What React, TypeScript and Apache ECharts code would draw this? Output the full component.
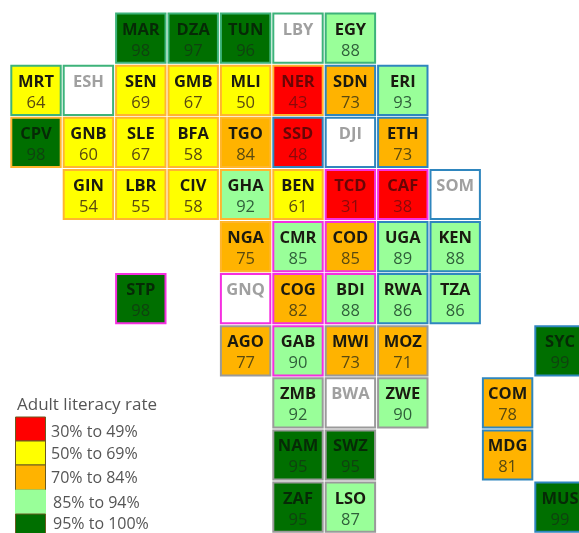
import React, { useEffect, useRef } from "react";
import * as echarts from "echarts";

const codes = ["MAR","DZA","TUN","LBY","EGY","MRT","ESH","SEN","GMB","MLI","NER","SDN","ERI","CPV","GNB","SLE","BFA","TGO","SSD","DJI","ETH","GIN","LBR","CIV","GHA","BEN","TCD","CAF","SOM","NGA","CMR","COD","UGA","KEN","STP","GNQ","COG","BDI","RWA","TZA","AGO","GAB","MWI","MOZ","SYC","ZMB","BWA","ZWE","COM","NAM","SWZ","MDG","ZAF","LSO","MUS"];
const tileCols = [2,3,4,5,6,0,1,2,3,4,5,6,7,0,1,2,3,4,5,6,7,1,2,3,4,5,6,7,8,4,5,6,7,8,2,4,5,6,7,8,4,5,6,7,10,5,6,7,9,5,6,9,5,6,10];
const tileRows = [0,0,0,0,0,1,1,1,1,1,1,1,1,2,2,2,2,2,2,2,2,3,3,3,3,3,3,3,3,4,4,4,4,4,5,5,5,5,5,5,6,6,6,6,6,7,7,7,7,8,8,8,9,9,9];
const literacy: (number | null)[] = [98,97,96,null,88,64,null,69,67,50,43,73,93,98,60,67,58,84,48,null,73,54,55,58,92,61,31,38,null,75,85,85,89,88,98,null,82,88,86,86,77,90,73,71,99,92,null,90,78,95,95,81,95,87,99];
const regions = ["N","N","N","N","N","N","N","W","W","W","W","E","E","W","W","W","W","W","E","E","E","W","W","W","W","W","C","C","E","W","C","C","E","E","C","C","C","C","E","E","S","C","S","S","E","S","S","S","E","S","S","E","S","S","E"];
// The reference paints COD in the 70-84 band although its label reads 85.
const bandExceptions: Record<string, number> = { COD: 2 };

const legendTitle = "Adult literacy rate";
const legendLabels = ["30% to 49%","50% to 69%","70% to 84%","85% to 94%","95% to 100%"];
const bandFloors = [30,50,70,85,95];
const bandColors = ["#FF0000","#FFFF00","#FFB300","#99FF99","#006F00"];
const regionColors: Record<string,string> = { N:"#3DB37A", W:"#FFB52E", E:"#2F86BE", C:"#F52FE0", S:"#9A9A9A" };

const FONT = "'Open Sans'";

function bandOf(code: string, v: number | null) {
  if (v == null) return -1;
  if (code in bandExceptions) return bandExceptions[code];
  let b = 0;
  bandFloors.forEach((f, i) => { if (v >= f) b = i; });
  return b;
}

export default function App() {
  const ref = useRef<HTMLDivElement>(null);
  useEffect(() => {
    document.body.style.margin = "0";
    const chart = echarts.init(ref.current!, undefined, { renderer: "svg" });
    const data = codes.map((c, i) => [tileCols[i], tileRows[i], literacy[i], c, regions[i]]);
    chart.setOption({
      animation: false,
      backgroundColor: "#FFFFFF",
      grid: { left: 10.3, top: 12.6, width: 576.4, height: 521, outerBoundsMode: "none" },
      xAxis: { type: "value", min: 0, max: 11, show: false },
      yAxis: { type: "value", min: 0, max: 10, inverse: true, show: false },
      graphic: [
        { type: "text", x: 17, y: 403, style: { text: legendTitle, font: `17px ${FONT}`, fill: "#555555", verticalAlign: "middle" } },
        ...legendLabels.map((l, i) => {
          const ys = [417, 441, 465, 490, 514];
          const ty = [431, 453, 477, 502, 523];
          return [
            { type: "rect", shape: { x: 15.5, y: ys[i], width: 30, height: i === 4 ? 26 : ys[i + 1] - ys[i] }, style: { fill: bandColors[i], stroke: i === 3 ? "#99FF99" : "#6B5B20", lineWidth: 1 } },
            { type: "text", x: i >= 3 ? 53 : 51, y: ty[i], style: { text: l, font: `16px ${FONT}`, fill: "#555555", verticalAlign: "middle" } },
          ];
        }).flat(),
      ],
      series: [{
        type: "custom",
        coordinateSystem: "cartesian2d",
        clip: false,
        encode: { x: 0, y: 1 },
        data,
        renderItem: (_p: any, api: any) => {
          const p = api.coord([api.value(0), api.value(1)]);
          const i = _p.dataIndex;
          const val = literacy[i];
          const code = codes[i];
          const band = bandOf(code, val);
          const isNull = band < 0;
          const stroke = regionColors[regions[i]];
          const dark = band === 4;
          const red = band === 0;
          const children: any[] = [
            { type: "rect", shape: { x: p[0] + 1, y: p[1] + 1, width: 49.4, height: 49.2 }, style: { fill: isNull ? "#FFFFFF" : bandColors[band], stroke, lineWidth: 2 } },
            { type: "text", x: p[0] + 25.7, y: p[1] + 15.5, style: { text: code, font: `bold 16.5px ${FONT}`, fill: isNull ? "#A0A0A0" : dark ? "#062A06" : red ? "#6A0505" : "#1A1A10", align: "center", verticalAlign: "middle" } },
          ];
          if (!isNull) children.push({ type: "text", x: p[0] + 25.7, y: p[1] + 36.5, style: { text: String(val), font: `16.5px ${FONT}`, fill: dark ? "#0F420F" : red ? "#8A0A0A" : band === 3 ? "#2F5F3A" : "#5A4A10", align: "center", verticalAlign: "middle" } });
          return { type: "group", children };
        },
      }],
    });
    return () => chart.dispose();
  }, []);
  return <div ref={ref} style={{ width: 579, height: 533, filter: "blur(0.5px)" }} />;
}
